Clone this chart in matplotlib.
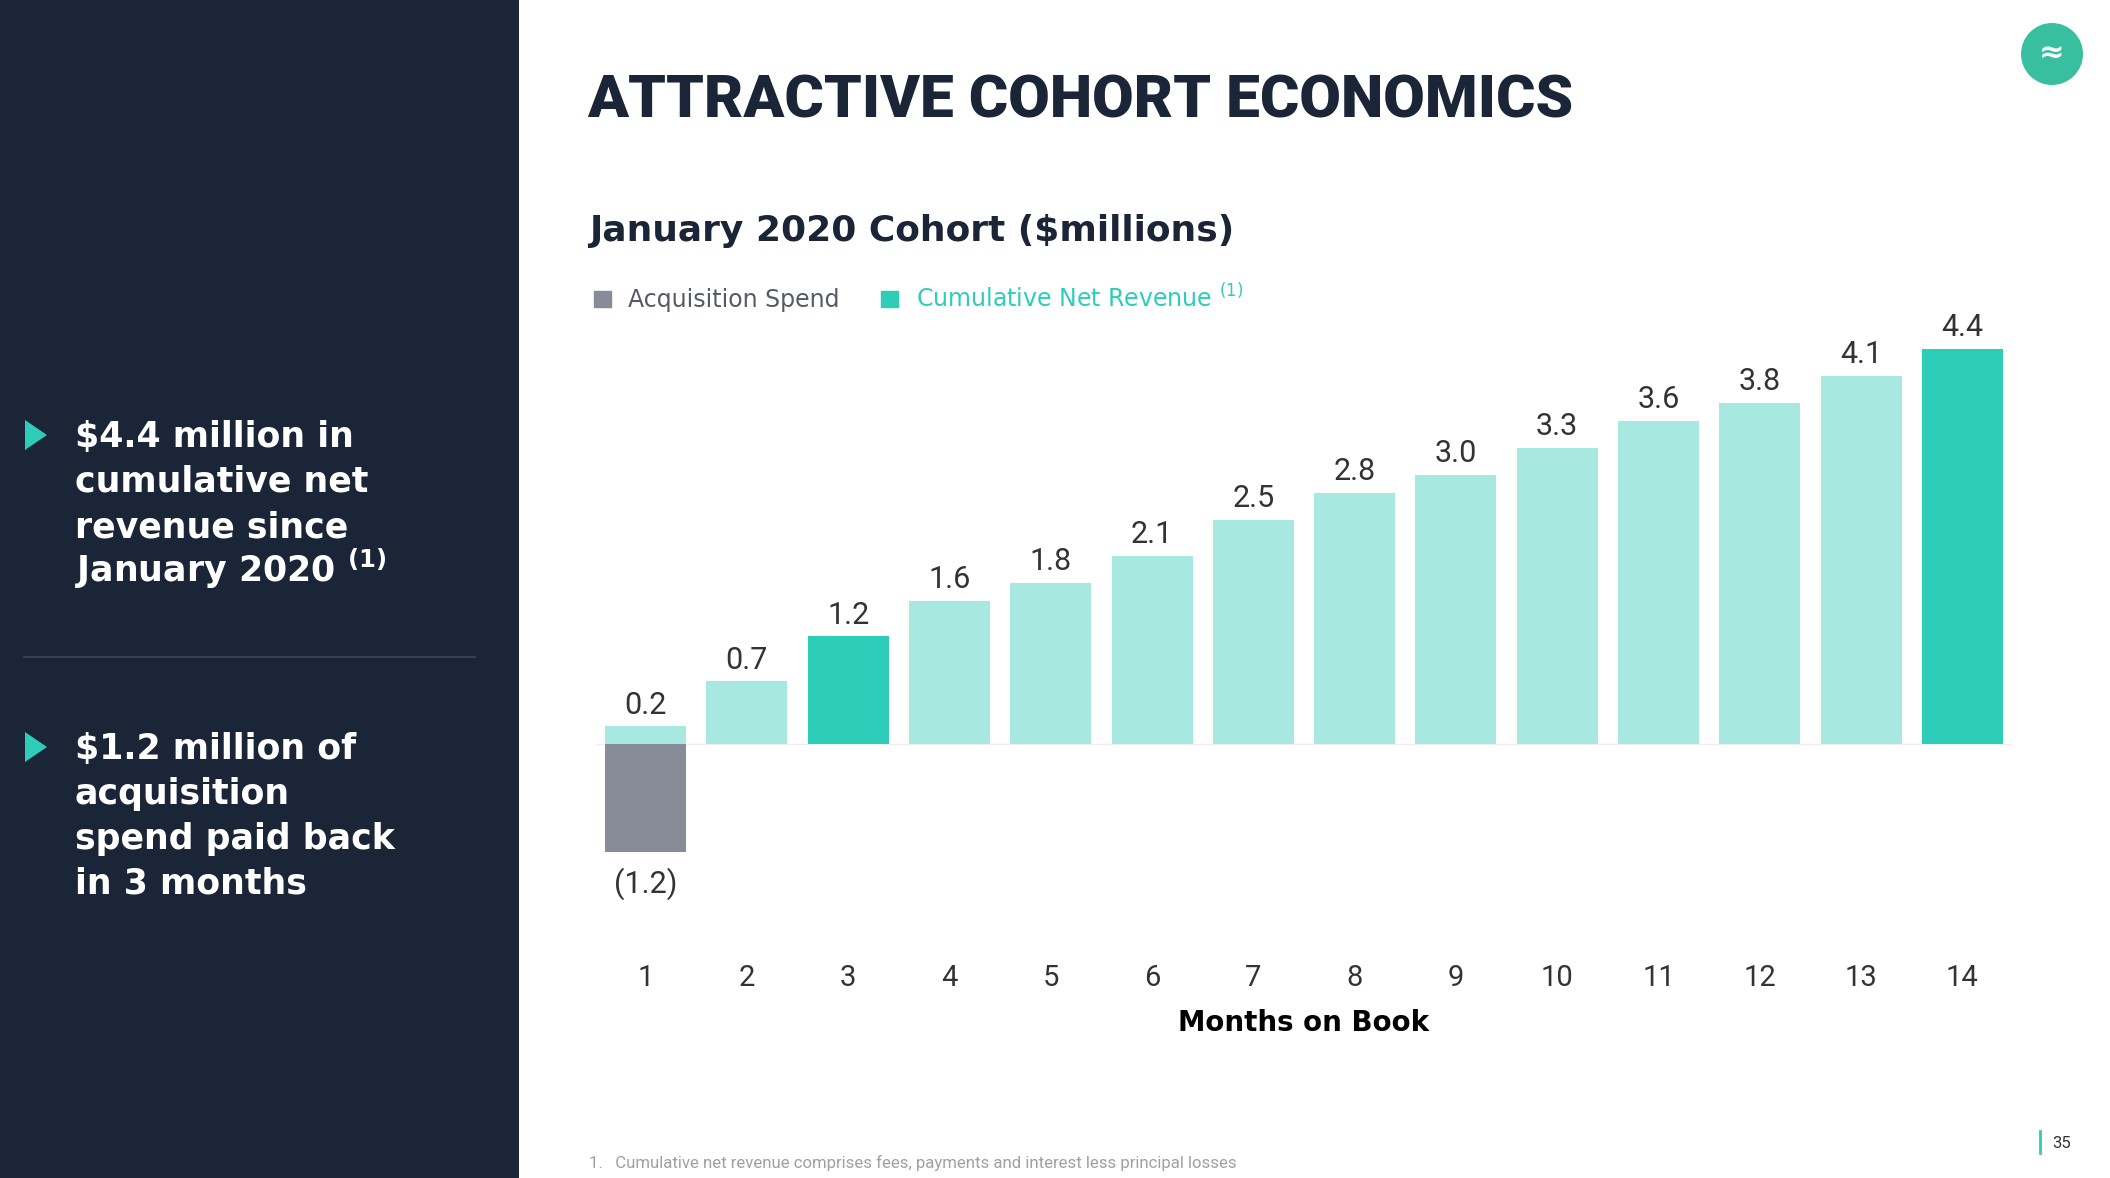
import matplotlib
matplotlib.use('Agg')
import matplotlib.pyplot as plt
from matplotlib.patches import Rectangle, Polygon, Ellipse, Patch

# data
months = [1, 2, 3, 4, 5, 6, 7, 8, 9, 10, 11, 12, 13, 14]
net_revenue = [0.2, 0.7, 1.2, 1.6, 1.8, 2.1, 2.5, 2.8, 3.0, 3.3, 3.6, 3.8, 4.1, 4.4]
acq_months = [1]
acq_spend = [-1.2]
highlight_months = [3, 14]

bullet_1 = ["$4.4 million in", "cumulative net", "revenue since", "January 2020"]
bullet_2 = ["$1.2 million of", "acquisition", "spend paid back", "in 3 months"]

NAVY = '#1b2538'
TEAL = '#2ecdb9'
LIGHT_TEAL = '#a7e8e1'
GRAY = '#878c98'

W, H = 2110, 1178


def fx(px):
    return px / W


def fy(py):
    return 1 - py / H


fig = plt.figure(figsize=(W / 100, H / 100), dpi=100)
fig.patch.set_facecolor('white')
r = fig.canvas.get_renderer()


def fit_width(t, target_px):
    # scale the font so the text spans target_px
    w = t.get_window_extent(r).width
    t.set_fontsize(t.get_fontsize() * target_px / w)


# left navy panel
fig.patches.append(Rectangle((0, 0), fx(519), 1, transform=fig.transFigure,
                             facecolor=NAVY, edgecolor='none', zorder=0))
fig.add_artist(plt.Line2D([fx(24), fx(475)], [fy(657), fy(657)], color='#3d475a', lw=1.2))


def bullet(y_center, lines, note=False):
    tri = Polygon([(fx(25), fy(y_center - 15)), (fx(25), fy(y_center + 15)),
                   (fx(47), fy(y_center))], closed=True, transform=fig.transFigure,
                  facecolor=TEAL, edgecolor='none')
    fig.patches.append(tri)
    for i, line in enumerate(lines):
        txt = line.replace('$', r'\$')
        if note and i == len(lines) - 1:
            txt = txt + r' $^{\mathbf{(1)}}$'
        fig.text(fx(75), fy(y_center + 12 + i * 45), txt, color='white',
                 fontsize=25, fontweight='bold', family='DejaVu Sans', va='baseline')


bullet(435, bullet_1, note=True)
bullet(747, bullet_2)

# title, subtitle
title = fig.text(fx(587), fy(118), 'ATTRACTIVE COHORT ECONOMICS', color=NAVY,
                 fontsize=60, fontweight='black',
                 family=['Liberation Sans Narrow', 'Roboto', 'DejaVu Sans'], va='baseline')
fit_width(title, 987)

sub = fig.text(fx(589), fy(241), 'January 2020 Cohort ($millions)', color=NAVY,
               fontsize=26, fontweight='bold', family='DejaVu Sans', va='baseline')
fit_width(sub, 645)

# logo and page number
fig.patches.append(Ellipse((fx(2052), fy(54)), 62 / W, 62 / H, transform=fig.transFigure,
                           facecolor='#38bf9f', edgecolor='none'))
fig.text(fx(2052), fy(54), '≈', color='white', fontsize=22, fontweight='bold',
         ha='center', va='center')
fig.add_artist(plt.Line2D([fx(2040), fx(2040)], [fy(1131), fy(1153)], color=TEAL, lw=2))
fig.text(fx(2052), fy(1143), '35', color='#333333', fontsize=12, family='Roboto',
         va='center')
foot = fig.text(fx(589), fy(1163),
                '1.   Cumulative net revenue comprises fees, payments and interest less principal losses',
                color='#a0a0a0', fontsize=11, family=['Liberation Sans Narrow', 'Roboto'],
                va='center')
fit_width(foot, 646)

# chart
ax = fig.add_axes([fx(595), fy(870), fx(2013) - fx(595), (870 - 331) / H])
colors = [TEAL if m in highlight_months else LIGHT_TEAL for m in months]
ax.bar(months, net_revenue, width=0.8, color=colors, zorder=2)
ax.bar(acq_months, acq_spend, width=0.8, color=GRAY, zorder=2)
ax.axhline(0, color='#eeeeee', lw=1, zorder=1)

for m, v in zip(months, net_revenue):
    ax.annotate(f'{v:.1f}', (m, v), xytext=(0, 9), textcoords='offset points',
                ha='center', va='baseline', fontsize=22, color='#333333', family='Roboto')
for m, v in zip(acq_months, acq_spend):
    ax.annotate(f'({abs(v):.1f})', (m, v), xytext=(0, -23), textcoords='offset points',
                ha='center', va='center', fontsize=22, color='#333333', family='Roboto')

ax.set_xlim(0.5, 14.5)
ax.set_ylim(-1.4, 4.6)
ax.set_xticks(months)
ax.set_xticklabels([str(m) for m in months], fontsize=21, color='#333333', family='Roboto')
ax.tick_params(axis='x', length=0, pad=68)
ax.set_yticks([])
xl = ax.set_xlabel('Months on Book', fontsize=22, fontweight='bold', family='DejaVu Sans',
                   color='black', labelpad=12)
fit_width(xl, 250)
for s in ax.spines.values():
    s.set_visible(False)

handles = [Patch(color=GRAY), Patch(color=TEAL)]
ax.legend(handles, ['Acquisition Spend', r'Cumulative Net Revenue $^{(1)}$'], ncol=2,
          loc='center left', bbox_to_anchor=(fx(573), fy(298)), bbox_transform=fig.transFigure,
          frameon=False, handlelength=0.7, handleheight=0.7, handletextpad=0.75,
          columnspacing=1.75, labelcolor=['#555b66', TEAL],
          prop={'family': 'DejaVu Sans', 'size': 17})

fig.savefig('out.png', dpi=100)
